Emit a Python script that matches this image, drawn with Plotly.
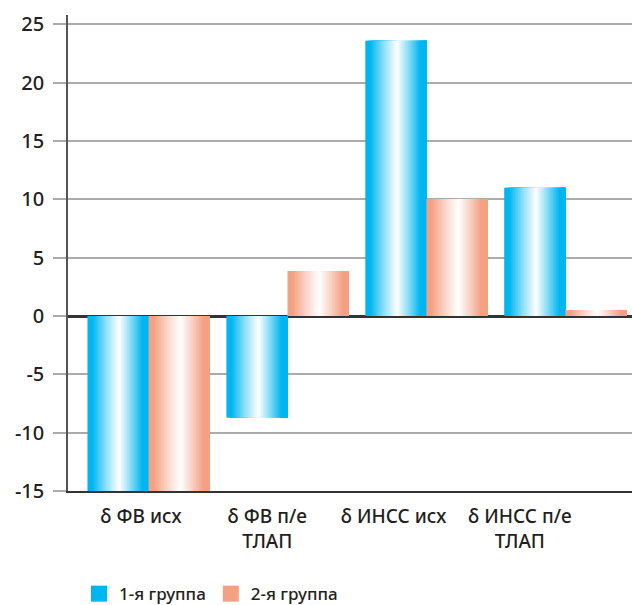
import numpy as np
import plotly.graph_objects as go

# Data
categories = ["δ ФВ исх", "δ ФВ п/е<br>ТЛАП", "δ ИНСС исх", "δ ИНСС п/е<br>ТЛАП"]
group1 = [-15.0, -8.7, 23.6, 11.0]
group2 = [-15.0, 3.85, 10.0, 0.5]
series_names = ["1-я группа", "2-я группа"]
y_ticks = [-15, -10, -5, 0, 5, 10, 15, 20, 25]
y_tick_text = [str(v) for v in y_ticks]

# Styling
BLUE = (0, 182, 240)
SALMON = (244, 160, 130)
WHITE = (255, 255, 255)
FONT = "Noto Sans"
TEXT = "#231f20"
BAR_W = 0.44
N_SLICES = 40

# horizontal "cylinder" shading: (position, mix toward white)
shade_stops = [(0.0, 0.0), (0.08, 0.0), (0.30, 0.55), (0.52, 1.0), (0.70, 0.55), (0.90, 0.0), (1.0, 0.0)]


def shade(base, t):
    ps = [p for p, _ in shade_stops]
    ms = [m for _, m in shade_stops]
    m = float(np.interp(t, ps, ms))
    r, g, b = (round(c + (w - c) * m) for c, w in zip(base, WHITE))
    return f"rgb({r},{g},{b})"


x = list(range(len(categories)))
fig = go.Figure()

for s, (vals, base) in enumerate([(group1, BLUE), (group2, SALMON)]):
    start = -BAR_W if s == 0 else 0.0
    step = BAR_W / N_SLICES
    for k in range(N_SLICES):
        fig.add_trace(go.Bar(
            x=x, y=vals,
            offset=start + k * step,
            width=BAR_W - k * step,
            marker=dict(color=shade(base, (k + 0.5) / N_SLICES), line=dict(width=0)),
            showlegend=False, hoverinfo="skip",
        ))

# legend swatches
for name, base in zip(series_names, [BLUE, SALMON]):
    fig.add_trace(go.Scatter(
        x=[None], y=[None], mode="markers", name=name,
        marker=dict(symbol="square", size=16, color="rgb(%d,%d,%d)" % base),
    ))

# invisible trace that carries the category labels on a second x axis
fig.add_trace(go.Scatter(x=x, y=[None] * len(x), xaxis="x2", showlegend=False, hoverinfo="skip"))

fig.update_layout(
    width=632, height=605,
    margin=dict(l=68, r=0, t=15, b=114),
    paper_bgcolor="white", plot_bgcolor="white",
    barmode="overlay",
    font=dict(family=FONT, size=17, color=TEXT),
    xaxis=dict(
        range=[-0.58, 3.48], showticklabels=False, showgrid=False,
        zeroline=False, showline=True, linecolor="#333333", linewidth=2,
        ticks="", automargin=False,
    ),
    xaxis2=dict(
        overlaying="x", side="bottom", range=[-0.578, 3.888],
        tickvals=x, ticktext=categories, showgrid=False, zeroline=False,
        showline=False, ticks="", tickfont=dict(size=19, color=TEXT, weight=500),
        automargin=False, ticklabelstandoff=12,
    ),
    yaxis=dict(
        range=[-15, 25.8], tickvals=y_ticks, ticktext=y_tick_text,
        showgrid=True, gridcolor="#ababab", gridwidth=1.6,
        zeroline=True, zerolinecolor="#333333", zerolinewidth=2.5,
        showline=True, linecolor="#555555", linewidth=1.5,
        ticks="outside", ticklen=13, tickcolor="#ababab", tickwidth=1.6,
        ticklabelstandoff=5, tickfont=dict(size=20, color=TEXT, weight=500),
        automargin=False,
    ),
    legend=dict(
        orientation="h", xref="container", yref="container",
        x=0.125, xanchor="left", y=0.018, yanchor="middle",
        font=dict(size=17, color=TEXT, weight=500), itemwidth=30, tracegroupgap=0,
    ),
)

fig.write_html("out.html")
